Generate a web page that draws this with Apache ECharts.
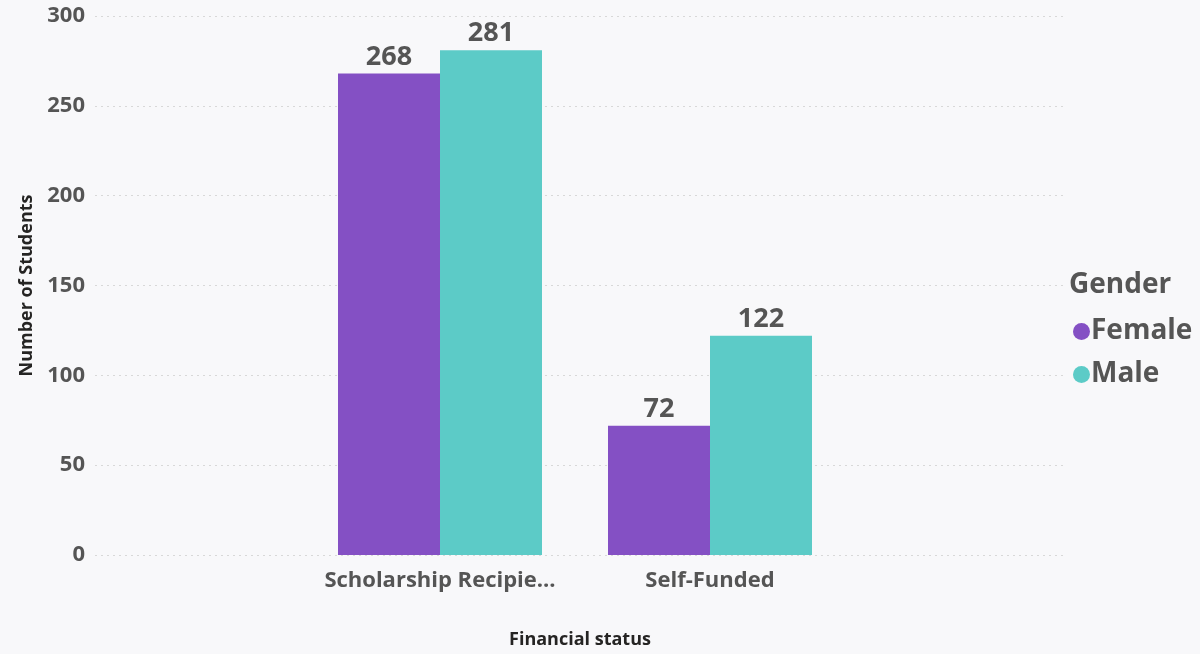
<!DOCTYPE html>
<html>
<head>
<meta charset="utf-8">
<script src="https://cdn.jsdelivr.net/npm/echarts@6/dist/echarts.min.js"></script>
<style>
html,body{margin:0;padding:0;background:#F8F8FA;}
#main{width:1200px;height:654px;}
</style>
</head>
<body>
<div id="main"></div>
<script>
const categories = ['Scholarship Recipie...', 'Self-Funded'];
const female = [268, 72];
const male = [281, 122];
const seriesNames = ['Female', 'Male'];
const yTicks = [0, 50, 100, 150, 200, 250, 300];

const FONT = '"Open Sans", "Noto Sans", sans-serif';
const chart = echarts.init(document.getElementById('main'));
const labelStyle = {show: true, position: 'top', distance: 3, fontFamily: FONT, fontWeight: 'bold', fontSize: 27, color: '#555555'};
chart.setOption({
  backgroundColor: '#F8F8FA',
  animation: false,
  textStyle: {fontFamily: FONT},
  title: {
    text: 'Gender', left: 1064, top: 266,
    textStyle: {fontFamily: FONT, fontWeight: 'bold', fontSize: 28, color: '#555555'}
  },
  legend: {
    orient: 'vertical', left: 1068, top: 311,
    data: seriesNames,
    icon: 'circle', itemWidth: 17, itemHeight: 17, itemGap: 12,
    textStyle: {fontFamily: FONT, fontWeight: 'bold', fontSize: 28, lineHeight: 31, color: '#555555', padding: [0,0,0,-4]}
  },
  grid: [
    {left: 95, right: 135, top: 16, bottom: 99},
    {left: 305, right: 355, top: 16, bottom: 99}
  ],
  xAxis: [
    {
      gridIndex: 0, type: 'category', data: categories,
      axisLine: {show: false}, axisTick: {show: false}, axisLabel: {show: false},
      name: 'Financial status', nameLocation: 'middle', nameGap: 76,
      nameTextStyle: {fontFamily: FONT, fontWeight: 'bold', fontSize: 18, color: '#252423'}
    },
    {
      gridIndex: 1, type: 'category', data: categories,
      axisLine: {show: false}, axisTick: {show: false},
      axisLabel: {interval: 0, margin: 15, fontFamily: FONT, fontWeight: 'bold', fontSize: 22, color: '#555555'}
    }
  ],
  yAxis: [
    {
      gridIndex: 0, type: 'value', min: yTicks[0], max: yTicks[yTicks.length-1], interval: 50,
      axisLabel: {margin: 10, fontFamily: FONT, fontWeight: 'bold', fontSize: 22, color: '#555555'},
      splitLine: {lineStyle: {color: '#D8D8D8', type: [2, 4], width: 1}},
      name: 'Number of Students', nameLocation: 'middle', nameGap: 58,
      nameTextStyle: {fontFamily: FONT, fontWeight: 'bold', fontSize: 18, color: '#252423'}
    },
    {
      gridIndex: 1, type: 'value', min: yTicks[0], max: yTicks[yTicks.length-1], interval: 50,
      axisLabel: {show: false}, splitLine: {show: false}, axisLine: {show: false}
    }
  ],
  series: [
    {name: seriesNames[0], type: 'bar', xAxisIndex: 1, yAxisIndex: 1, data: female,
     barWidth: 102, barGap: '0%', itemStyle: {color: '#8450C4'}, label: labelStyle},
    {name: seriesNames[1], type: 'bar', xAxisIndex: 1, yAxisIndex: 1, data: male,
     barWidth: 102, barGap: '0%', itemStyle: {color: '#5CCBC7'}, label: labelStyle}
  ]
});
</script>
</body>
</html>
